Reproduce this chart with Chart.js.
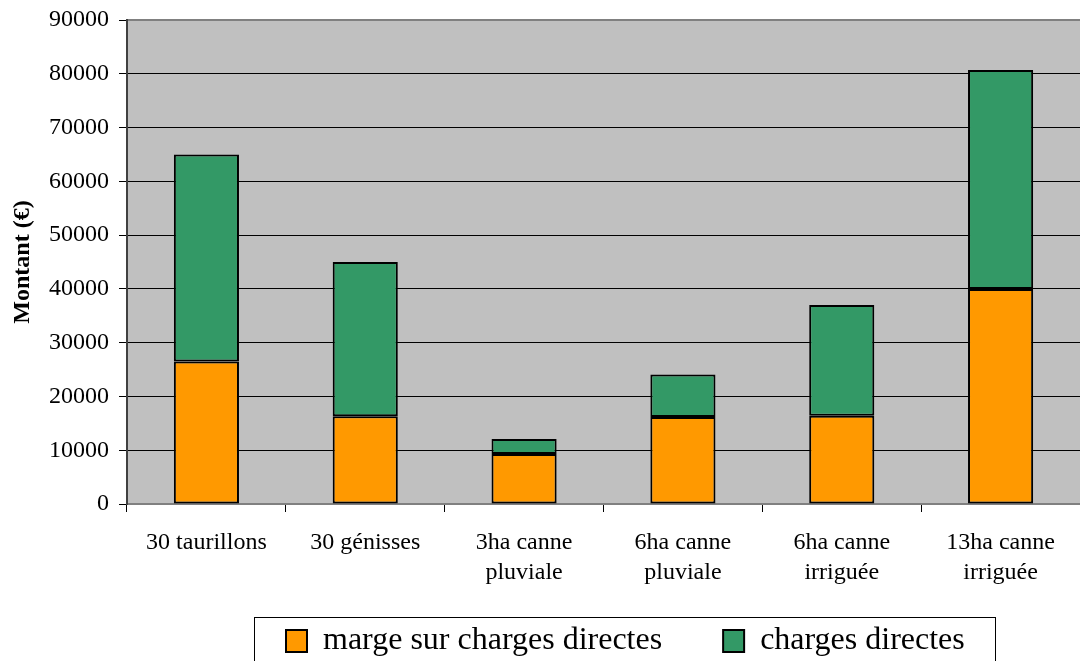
<!DOCTYPE html>
<html>
<head>
<meta charset="utf-8">
<script src="https://cdn.jsdelivr.net/npm/chart.js@4/dist/chart.umd.min.js"></script>
<style>
  html, body { margin: 0; padding: 0; background: #fff; }
  #wrap { width: 1080px; height: 661px; }
</style>
</head>
<body>
<div id="wrap"><canvas id="chart" width="1080" height="661"></canvas></div>
<script>
// Marge / charges directes par atelier

const categories = [
  ["30 taurillons"],
  ["30 génisses"],
  ["3ha canne", "pluviale"],
  ["6ha canne", "pluviale"],
  ["6ha canne", "irriguée"],
  ["13ha canne", "irriguée"],
];
const marge = [26500, 16300, 9300, 16200, 16400, 40000];
const charges = [38500, 28700, 2800, 7900, 20600, 40700];
const yTicks = [0, 10000, 20000, 30000, 40000, 50000, 60000, 70000, 80000, 90000];

const SERIF = "'Times New Roman', 'Liberation Serif', serif";

// grey plot area + top border
const plotBg = {
  id: "plotBg",
  beforeDraw(chart) {
    const a = chart.chartArea;
    const ctx = chart.ctx;
    ctx.save();
    ctx.fillStyle = "#c0c0c0";
    ctx.fillRect(a.left, a.top, a.right - a.left, a.bottom - a.top);
    ctx.strokeStyle = "#808080";
    ctx.lineWidth = 2;
    ctx.beginPath();
    ctx.moveTo(a.left, a.top);
    ctx.lineTo(a.right, a.top);
    ctx.stroke();
    ctx.restore();
  },
};

// put legend where the reference has it, draw its frame,
// and let the x labels use the room below the axis (second line)
const legendBox = {
  id: "legendBox",
  afterLayout(chart) {
    const lg = chart.legend;
    const h = lg.height;
    lg.left = 225;
    lg.right = 1080;
    lg.width = lg.right - lg.left;
    lg.top = 564;
    lg.bottom = lg.top + h;
    const x = chart.scales.x;
    x.bottom = 615;
    x.height = x.bottom - x.top;
  },
  afterDraw(chart) {
    const ctx = chart.ctx;
    ctx.save();
    ctx.strokeStyle = "#000";
    ctx.lineWidth = 1;
    ctx.strokeRect(254.5, 617.5, 741, 60);
    ctx.restore();
  },
};

new Chart(document.getElementById("chart").getContext("2d"), {
  type: "bar",
  data: {
    labels: categories,
    datasets: [
      {
        label: "marge sur charges directes",
        data: marge,
        backgroundColor: "#ff9900",
        borderColor: "#000",
        borderWidth: 2,
        borderSkipped: false,
      },
      {
        label: "charges directes",
        data: charges,
        backgroundColor: "#339966",
        borderColor: "#000",
        borderWidth: 2,
        borderSkipped: false,
      },
    ],
  },
  options: {
    responsive: false,
    animation: false,
    devicePixelRatio: 1,
    layout: { padding: { top: 20, right: 0, left: 0, bottom: 0 } },
    datasets: { bar: { categoryPercentage: 1, barPercentage: 0.41 } },
    plugins: {
      tooltip: { enabled: false },
      legend: {
        position: "bottom",
        align: "start",
        labels: {
          font: { family: SERIF, size: 32 },
          color: "#000",
          boxWidth: 21,
          boxHeight: 22,
          padding: 61,
        },
      },
    },
    scales: {
      x: {
        stacked: true,
        afterFit(scale) { scale.height = 54; },
        grid: {
          offset: true,
          drawOnChartArea: false,
          tickLength: 8,
          tickColor: "#000",
        },
        border: { color: "#808080", width: 2 },
        ticks: {
          font: { family: SERIF, size: 24, lineHeight: 1.25 },
          color: "#000",
          padding: 16,
          maxRotation: 0,
          autoSkip: false,
        },
      },
      y: {
        stacked: true,
        min: 0,
        max: 90000,
        afterFit(scale) {
          scale.width = 127;
          scale.paddingTop = 4;
          scale.paddingBottom = 4;
        },
        afterBuildTicks(scale) {
          scale.ticks = yTicks.map(function(v) { return { value: v }; });
        },
        grid: {
          color: function(c) { return c.tick && c.tick.value === 90000 ? "#808080" : "#000"; },
          lineWidth: 1,
          tickLength: 8,
          tickColor: "#000",
        },
        border: { color: "#404040", width: 2 },
        ticks: {
          font: { family: SERIF, size: 24 },
          color: "#000",
          padding: 10,
          callback: function(v) { return String(v); },
        },
        title: {
          display: true,
          text: "Montant (€)",
          font: { family: SERIF, size: 24, weight: "bold" },
          color: "#000",
          padding: { top: 8, bottom: 0 },
        },
      },
    },
  },
  plugins: [plotBg, legendBox],
});
</script>
</body>
</html>
